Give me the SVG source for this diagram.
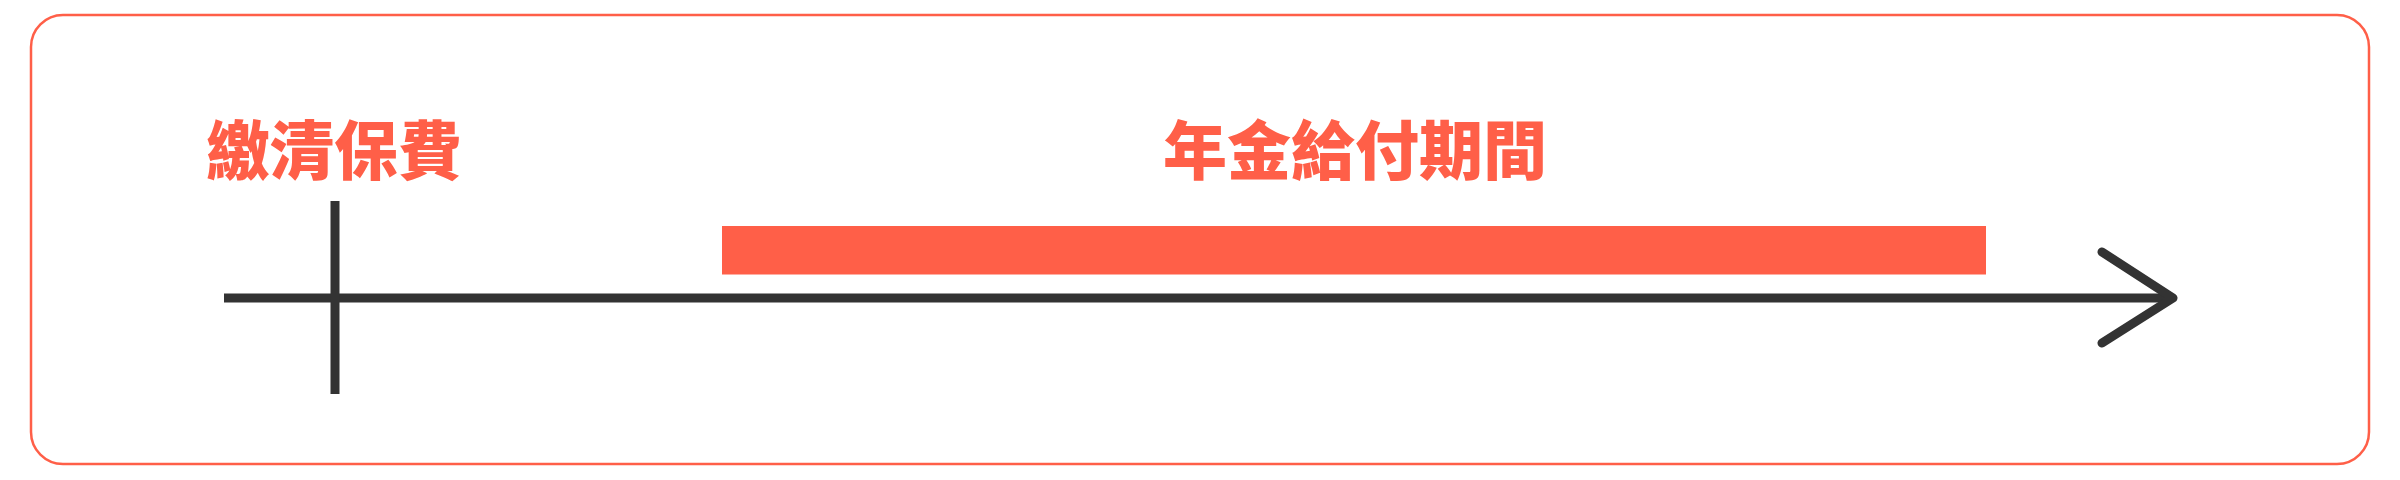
<svg xmlns="http://www.w3.org/2000/svg" width="2400" height="480" viewBox="0 0 2400 480">
  <style>
    .lbl { font-family: "Noto Sans CJK TC", "Noto Sans CJK JP", sans-serif; font-weight: 900; font-size: 64px; fill: #FF5F48; text-anchor: middle; }
    .ink { stroke: #333333; stroke-width: 9; fill: none; }
  </style>
  <rect x="0" y="0" width="2400" height="480" fill="#FFFFFF"/>
  <rect id="frame" x="31" y="15" width="2338" height="449" rx="32" ry="32" fill="#FFFFFF" stroke="#FF5F48" stroke-width="2.5"/>
  <g id="bar-pension">
    <rect x="722" y="226" width="1264" height="48.5" fill="#FF5F48"/>
  </g>
  <g id="label-pay">
    <text class="lbl" x="334" y="174">繳清保費</text>
  </g>
  <g id="label-pension">
    <text class="lbl" x="1355" y="174">年金給付期間</text>
  </g>
  <g id="connectors">
    <line class="ink" x1="224" y1="298" x2="2170" y2="298"/>
    <line class="ink" x1="335" y1="201" x2="335" y2="394"/>
    <polyline class="ink" points="2102,252 2173,298 2102,343" stroke-linecap="round" stroke-linejoin="round"/>
  </g>
</svg>
